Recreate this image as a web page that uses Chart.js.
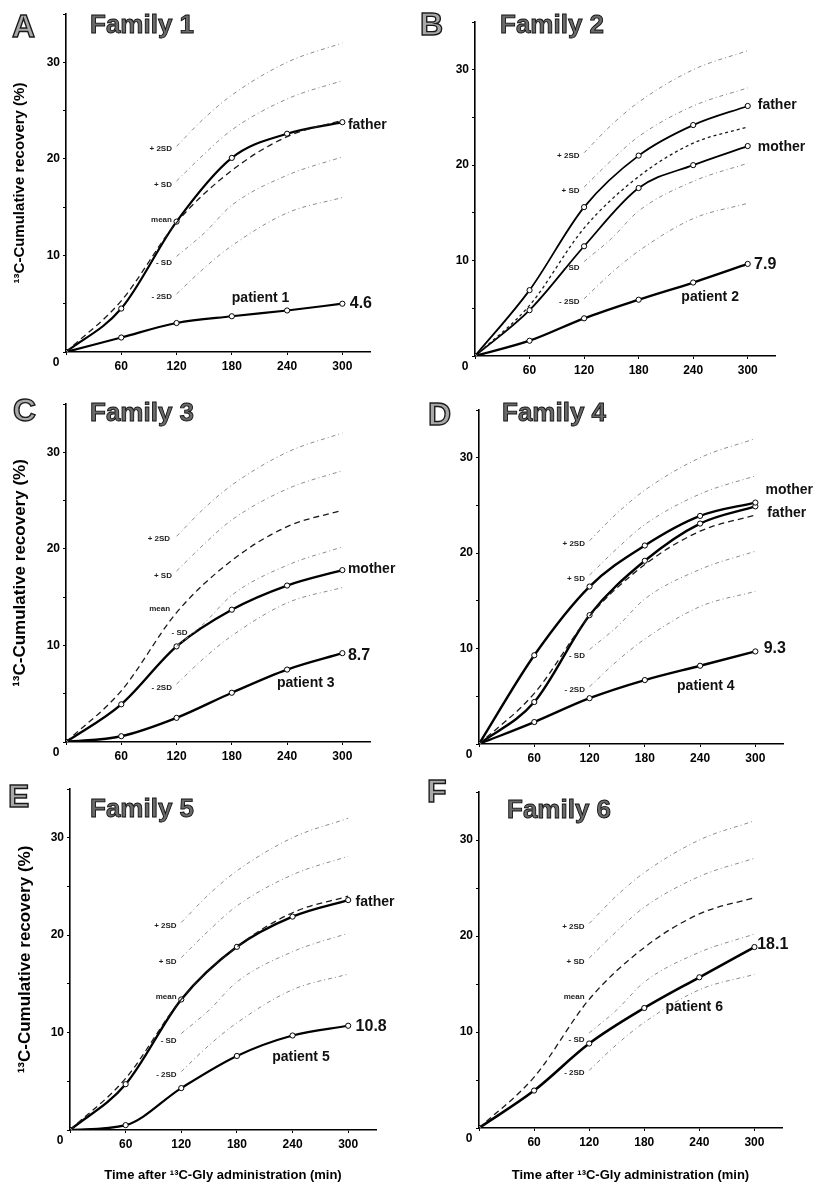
<!DOCTYPE html>
<html><head><meta charset="utf-8">
<script src="https://cdn.jsdelivr.net/npm/chart.js@4.4.0/dist/chart.umd.min.js"></script>
<style>
html,body{margin:0;padding:0;background:#fff;}
#fig{position:relative;width:820px;height:1188px;overflow:hidden;}
canvas{position:absolute;}
</style></head><body><div id="fig"></div>
<script>
// ---- data ----
const times = [0, 60, 120, 180, 240, 300];
const xTickValues = [60, 120, 180, 240, 300];
const yTickLabels = [10, 20, 30];

// reference band (same in every panel)
const meanRef  = [0, 5.3, 13.4, 18.8, 22.3, 24.0];
const sdTimes  = [120, 150, 180, 240, 300];
const plus2SD  = [21.3, 24.2, 26.6, 30.0, 32.0];
const plus1SD  = [17.7, 20.5, 23.0, 26.2, 28.1];
const minus1SD = [9.9, 12.3, 15.2, 18.3, 20.2];
const minus2SD = [6.0, 8.7, 11.0, 14.4, 16.0];

// family members
const f1Father  = [0, 4.5, 13.5, 20.1, 22.6, 23.8];
const f1Patient = [0, 1.5, 3.0, 3.7, 4.3, 5.0];
const f2Father  = [0, 6.9, 15.6, 21.0, 24.2, 26.2];
const f2Mother  = [0, 4.8, 11.5, 17.6, 20.0, 22.0];
const f2Patient = [0, 1.6, 3.95, 5.9, 7.7, 9.65];
const f3Mother  = [0, 3.9, 9.9, 13.7, 16.2, 17.8];
const f3Patient = [0, 0.6, 2.5, 5.1, 7.5, 9.2];
const f4Mother  = [0, 9.3, 16.5, 20.8, 23.9, 25.3];
const f4Father  = [0, 4.4, 13.5, 19.2, 23.1, 24.9];
const f4Patient = [0, 2.3, 4.8, 6.7, 8.2, 9.7];
const f5Father  = [0, 4.7, 13.4, 18.8, 21.9, 23.6];
const f5Patient = [0, 0.5, 4.3, 7.6, 9.7, 10.7];
const f6Patient = [0, 3.9, 8.8, 12.5, 15.7, 18.85];

const yTitleText = '\u00B9\u00B3C-Cumulative recovery (%)';
const xTitleText = 'Time after \u00B9\u00B3C-Gly administration (min)';

// ---- layout / annotations ----
const FONT = '"Liberation Sans", Arial, Helvetica, sans-serif';
const sdLabelsFull = [['+ 2SD', 115, 21.0], ['+ SD', 115, 17.3], ['mean', 115, 13.7], ['- SD', 115, 9.2], ['- 2SD', 115, 5.7]];
const sdLabelsNoMean = sdLabelsFull.filter(l => l[0] !== 'mean');
const sdLabelsC = [['+ 2SD', 113, 21.0], ['+ SD', 115, 17.2], ['mean', 113, 13.8], ['- SD', 132, 11.3], ['- 2SD', 115, 5.6]];

const panels = [
  {letter:'A', title:'Family 1', left:0, top:0, w:410, h:385, ca:{l:66,t:14,r:370,b:352},
   yTitle:true, yTitleSize:15, yTitlePad:11, xTitle:false,
   letterPos:[12,37], titlePos:[90,33],
   members:[[f1Father,2.2],[f1Patient,2.2]],
   labels:[['father',306,23.5,14],['patient 1',180,5.6,14],['4.6',308,5.0,16]],
   sd:sdLabelsFull},
  {letter:'B', title:'Family 2', left:410, top:0, w:410, h:385, ca:{l:65,t:22,r:365,b:356},
   yTitle:false, xTitle:false, letterPos:[10,35], titlePos:[90,33],
   members:[[f2Father,1.8],[f2Mother,1.8],[f2Patient,2.4]],
   labels:[['father',311,26.3,14],['mother',311,21.9,14],['7.9',307,9.6,16],['patient 2',227,6.2,14]],
   sd:sdLabelsNoMean, meanDash:[3,3]},
  {letter:'C', title:'Family 3', left:0, top:385, w:410, h:385, ca:{l:66,t:19,r:370,b:357},
   yTitle:true, yTitleSize:17, yTitlePad:10, xTitle:false,
   letterPos:[13,36], titlePos:[90,36],
   members:[[f3Mother,2.4],[f3Patient,2.4]],
   labels:[['mother',306,17.9,14],['8.7',306,8.9,16],['patient 3',229,6.1,14]],
   sd:sdLabelsC},
  {letter:'D', title:'Family 4', left:410, top:385, w:410, h:385, ca:{l:69,t:25,r:373,b:359},
   yTitle:false, xTitle:false, letterPos:[18,40], titlePos:[92,36],
   members:[[f4Mother,2.4],[f4Father,2.4],[f4Patient,2.4]],
   labels:[['mother',311,26.6,14],['father',313,24.2,14],['9.3',309,10.0,16],['patient 4',215,6.1,14]],
   sd:sdLabelsNoMean},
  {letter:'E', title:'Family 5', left:0, top:770, w:410, h:418, ca:{l:70,t:19,r:376,b:360},
   yTitle:true, yTitleSize:17, yTitlePad:15, xTitle:true,
   letterPos:[8,37], titlePos:[90,47],
   members:[[f5Father,2.4],[f5Patient,2.2]],
   labels:[['father',308,23.4,14],['10.8',308,10.6,16],['patient 5',218,7.5,14]],
   sd:sdLabelsFull},
  {letter:'F', title:'Family 6', left:410, top:770, w:410, h:418, ca:{l:69,t:22,r:372,b:358},
   yTitle:false, xTitle:true, letterPos:[17,32], titlePos:[97,48],
   members:[[f6Patient,2.6]],
   labels:[['18.1',303,19.1,16],['patient 6',203,12.6,14]],
   sd:sdLabelsFull}
];

Chart.defaults.font.family = FONT;
Chart.defaults.color = '#000';

const decorPlugin = {
  id: 'panelDecor',
  afterDraw(chart, args, opts) {
    const p = opts.panel;
    const ctx = chart.ctx;
    const xs = chart.scales.x, ys = chart.scales.y;
    ctx.save();
    // panel letter (outlined)
    ctx.textBaseline = 'alphabetic';
    ctx.textAlign = 'left';
    ctx.font = 'bold 32px ' + FONT;
    ctx.fillStyle = '#a8a8a8';
    ctx.strokeStyle = '#1a1a1a';
    ctx.lineWidth = 1.4;
    ctx.fillText(p.letter, p.letterPos[0], p.letterPos[1]);
    ctx.strokeText(p.letter, p.letterPos[0], p.letterPos[1]);
    // family title
    ctx.font = 'bold 26px ' + FONT;
    ctx.fillStyle = '#6a6a6a';
    ctx.strokeStyle = '#111';
    ctx.lineWidth = 0.9;
    ctx.fillText(p.title, p.titlePos[0], p.titlePos[1]);
    ctx.strokeText(p.title, p.titlePos[0], p.titlePos[1]);
    // SD labels
    ctx.fillStyle = '#222';
    ctx.font = 'bold 8px ' + FONT;
    ctx.textAlign = 'right';
    ctx.textBaseline = 'middle';
    p.sd.forEach(l => ctx.fillText(l[0], xs.getPixelForValue(l[1]), ys.getPixelForValue(l[2])));
    // curve labels
    ctx.textAlign = 'left';
    ctx.fillStyle = '#111';
    p.labels.forEach(l => {
      ctx.font = 'bold ' + l[3] + 'px ' + FONT;
      ctx.fillText(l[0], xs.getPixelForValue(l[1]), ys.getPixelForValue(l[2]));
    });
    // origin "0"
    ctx.font = 'bold 12px ' + FONT;
    ctx.textAlign = 'center';
    ctx.fillStyle = '#000';
    ctx.fillText('0', chart.chartArea.left - 10, chart.chartArea.bottom + 11);
    ctx.restore();
  }
};

const fig = document.getElementById('fig');
const pts = (xsArr, ysArr) => xsArr.map((x, i) => ({x: x, y: ysArr[i]}));

panels.forEach(p => {
  const cv = document.createElement('canvas');
  cv.width = p.w; cv.height = p.h;
  cv.style.left = p.left + 'px'; cv.style.top = p.top + 'px';
  cv.style.width = p.w + 'px'; cv.style.height = p.h + 'px';
  fig.appendChild(cv);

  const datasets = [];
  [plus2SD, plus1SD, minus1SD, minus2SD].forEach(arr => {
    datasets.push({data: pts(sdTimes, arr), borderColor: '#8c8c8c', borderWidth: 1,
      borderDash: [4, 3, 1, 3], pointRadius: 0, cubicInterpolationMode: 'monotone', fill: false});
  });
  datasets.push({data: pts(times, meanRef), borderColor: '#1a1a1a', borderWidth: 1.3,
    borderDash: p.meanDash || [6, 4], pointRadius: 0, cubicInterpolationMode: 'monotone', fill: false});
  p.members.forEach(m => {
    datasets.push({data: pts(times, m[0]), borderColor: '#000', borderWidth: m[1],
      pointRadius: 2.6, pointBackgroundColor: '#fff', pointBorderColor: '#000', pointBorderWidth: 1,
      cubicInterpolationMode: 'monotone', fill: false});
  });

  new Chart(cv, {
    type: 'line',
    data: {datasets: datasets},
    plugins: [decorPlugin],
    options: {
      responsive: false, animation: false, devicePixelRatio: 1,
      layout: {padding: {left: 0, top: p.ca.t, right: p.w - p.ca.r, bottom: 0}},
      plugins: {legend: {display: false}, tooltip: {enabled: false}, panelDecor: {panel: p}},
      scales: {
        x: {
          type: 'linear', min: 0, max: 330,
          afterFit: s => { s.height = p.h - p.ca.b; },
          border: {display: true, color: '#000', width: 1.6},
          grid: {display: true, drawOnChartArea: false, drawTicks: true, tickLength: 3, color: '#000'},
          ticks: {stepSize: 60, includeBounds: false, autoSkip: false, maxRotation: 0, padding: 4,
            color: '#000', font: {size: 12, weight: 'bold'},
            callback: v => xTickValues.includes(v) ? String(v) : ''},
          title: {display: p.xTitle, text: xTitleText, color: '#000',
            font: {size: 13, weight: 'bold'}, padding: {top: 0, bottom: 5}}
        },
        y: {
          type: 'linear', min: 0, max: 35,
          afterFit: s => { s.width = p.ca.l; },
          border: {display: true, color: '#000', width: 1.6},
          grid: {display: true, drawOnChartArea: false, drawTicks: true, tickLength: 3, color: '#000'},
          ticks: {stepSize: 5, autoSkip: false, padding: 3, color: '#000', font: {size: 12, weight: 'bold'},
            callback: v => yTickLabels.includes(v) ? String(v) : ''},
          title: {display: p.yTitle, text: yTitleText, color: '#000',
            font: {size: p.yTitleSize || 15, weight: 'bold'}, padding: {top: p.yTitlePad || 10, bottom: 0}}
        }
      }
    }
  });
});
</script>
</body></html>
